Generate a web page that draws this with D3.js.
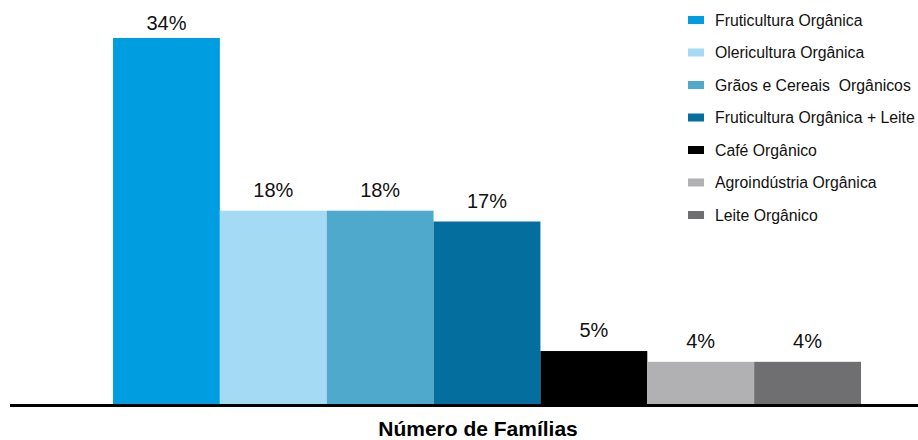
<!DOCTYPE html>
<html>
<head>
<meta charset="utf-8">
<script src="https://cdn.jsdelivr.net/npm/d3@7"></script>
<style>
  html, body { margin: 0; padding: 0; background: #fff; }
  svg { display: block; font-family: "Liberation Sans", Arial, sans-serif; }
</style>
</head>
<body>
<svg id="chart"></svg>
<script>
// ───────────────── DATA ─────────────────
const categories = [
  "Fruticultura Orgânica",
  "Olericultura Orgânica",
  "Grãos e Cereais  Orgânicos",
  "Fruticultura Orgânica + Leite",
  "Café Orgânico",
  "Agroindústria Orgânica",
  "Leite Orgânico"
];
const shares = [34, 18, 18, 17, 5, 4, 4];
const colors = ["#009ee0", "#a5daf4", "#4fa9cc", "#046e9e", "#000000", "#b1b1b3", "#6f6f71"];
const axisTitle = "Número de Famílias";

// ───────────────── SIZE ─────────────────
const W = 918;
const H = 440;

const svg = d3.select("#chart")
  .attr("width", W)
  .attr("height", H)
  .attr("viewBox", `0 0 ${W} ${H}`);

// ───────────────── SCALE ─────────────────
const x = d3.scaleBand()
  .domain(categories)
  .range([113, 861])
  .padding(0);

const y = d3.scaleLinear()
  .domain([0, 34])
  .range([405, 38]);

// ───── BARS ─────
svg.selectAll(".bar")
  .data(categories)
  .join("rect")
  .attr("class", "bar")
  .attr("x", d => x(d))
  .attr("y", (d, i) => y(shares[i]))
  .attr("width", x.bandwidth())
  .attr("height", (d, i) => y(0) - y(shares[i]))
  .attr("fill", (d, i) => colors[i]);

// ───── VALUE LABELS ─────
svg.selectAll(".val")
  .data(categories)
  .join("text")
  .attr("class", "val")
  .attr("x", d => x(d) + x.bandwidth() / 2)
  .attr("y", (d, i) => Math.max(30, y(shares[i]) - 14))
  .attr("text-anchor", "middle")
  .attr("fill", "#111")
  .style("font-size", "20px")
  .text((d, i) => shares[i] + "%");

// ───── BASELINE ─────
svg.append("line")
  .attr("x1", 10)
  .attr("x2", W)
  .attr("y1", y(0) + 0.5)
  .attr("y2", y(0) + 0.5)
  .attr("stroke", "#000")
  .attr("stroke-width", 3);

// ───── AXIS TITLE ─────
svg.append("text")
  .attr("x", 478)
  .attr("y", 436)
  .attr("text-anchor", "middle")
  .attr("fill", "#000")
  .style("font-size", "21px")
  .style("font-weight", "700")
  .text(axisTitle);

// ───── LEGEND ─────
const legend = svg.selectAll(".leg")
  .data(categories)
  .join("g")
  .attr("class", "leg")
  .attr("transform", (d, i) => `translate(688,${20 + i * 32.5})`);

legend.append("rect")
  .attr("x", 0)
  .attr("y", -4)
  .attr("width", 16)
  .attr("height", 8)
  .attr("fill", (d, i) => colors[i]);

legend.append("text")
  .attr("x", 27)
  .attr("y", 5.5)
  .attr("fill", "#111")
  .style("font-size", "15.8px")
  .style("white-space", "pre")
  .text(d => d);
</script>
</body>
</html>
